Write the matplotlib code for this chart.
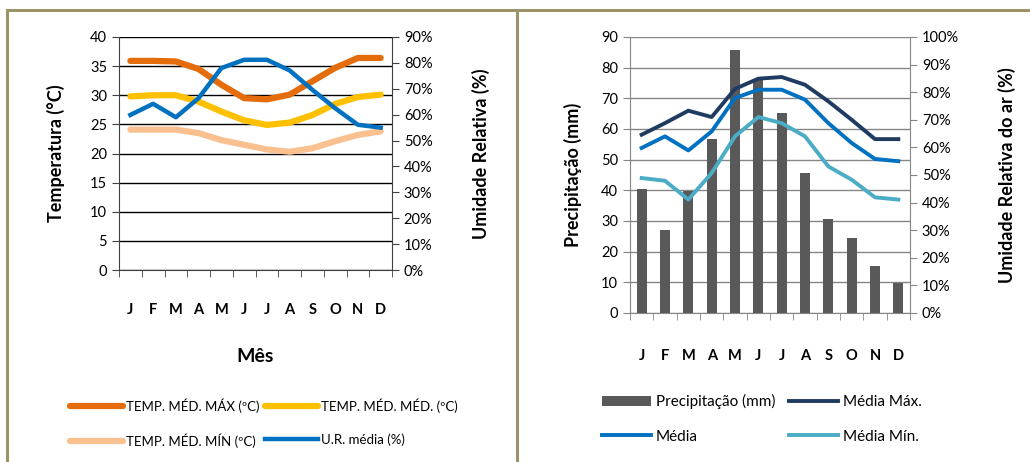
import numpy as np
import matplotlib
matplotlib.use('Agg')
from matplotlib import pyplot as plt
from matplotlib.lines import Line2D
from matplotlib.ticker import FuncFormatter

plt.rcParams['font.family'] = ['Lato', 'DejaVu Sans']

meses = ['J', 'F', 'M', 'A', 'M', 'J', 'J', 'A', 'S', 'O', 'N', 'D']

# grafico da esquerda
t_max = [35.9, 35.9, 35.8, 34.5, 31.8, 29.5, 29.3, 30.1, 32.4, 34.7, 36.4, 36.4]
t_med = [29.8, 30.0, 30.0, 28.9, 27.2, 25.7, 24.9, 25.3, 26.6, 28.5, 29.7, 30.1]
t_min = [24.1, 24.1, 24.1, 23.5, 22.3, 21.5, 20.7, 20.3, 20.9, 22.1, 23.2, 23.8]
ur_media = [59.9, 64.2, 59.0, 66.4, 78.0, 81.2, 81.2, 77.1, 69.6, 62.5, 56.1, 55.0]

# grafico da direita
precip = [40.4, 27.0, 39.7, 56.8, 85.7, 76.0, 65.2, 45.7, 30.8, 24.5, 15.4, 9.8]
ur_max = [64.6, 68.8, 73.3, 71.0, 81.2, 84.9, 85.5, 82.7, 76.7, 70.0, 63.0, 63.0]
ur_med = [59.8, 64.0, 58.9, 65.8, 77.9, 80.9, 80.9, 77.3, 68.8, 61.6, 55.8, 55.0]
ur_min = [48.9, 47.9, 41.1, 50.7, 64.0, 71.0, 68.8, 64.0, 53.1, 48.3, 41.9, 41.1]

W, H = 1030, 462
fig = plt.figure(figsize=(W/100, H/100), dpi=100)

def caixa(l, t, r, b):
    return [l/W, (H-b)/H, (r-l)/W, (b-t)/H]

# molduras
borda = '#9b9468'
fig.add_artist(Line2D([7/W, 1], [1-10/H, 1-10/H], color=borda, lw=2.2))
fig.add_artist(Line2D([7/W, 7/W], [0, 1-10/H], color=borda, lw=2.2))
fig.add_artist(Line2D([517/W, 517/W], [0, 1-10/H], color=borda, lw=2.2))

x = np.arange(12)
pct = FuncFormatter(lambda v, p: '%d%%' % round(v*100))

def eixo_x(ax, pad):
    ax.set_xlim(-0.5, 11.5)
    ax.set_xticks(x)
    ax.set_xticklabels(meses, fontweight='bold', fontsize=10.5)
    ax.set_xticks(np.arange(-0.5, 12, 1), minor=True)
    ax.tick_params(axis='x', which='major', length=0, pad=pad)
    ax.tick_params(axis='x', which='minor', length=5, direction='out', color='#404040')

# ---- esquerda
ax1 = fig.add_axes(caixa(119, 37, 392, 270))
ax1.set_ylim(0, 40)
ax1.set_yticks(np.arange(0, 41, 5))
ax1.grid(axis='y', color='black', lw=1)
ax1.set_axisbelow(True)
for s in ['top', 'right']:
    ax1.spines[s].set_visible(False)
for s in ['left', 'bottom']:
    ax1.spines[s].set_color('#404040')
ax1.tick_params(axis='y', length=5, direction='out', labelsize=10.5, color='#404040')
eixo_x(ax1, 24)
l1, = ax1.plot(x, t_max, color='#e46c0a', lw=4.5, solid_capstyle='round')
l2, = ax1.plot(x, t_med, color='#ffc000', lw=4.5, solid_capstyle='round')
l3, = ax1.plot(x, t_min, color='#fac090', lw=4.5, solid_capstyle='round')
ax1.set_ylabel('Temperatura (°C)', fontweight='bold', fontsize=13, labelpad=18)
ax1.set_xlabel('Mês', fontweight='bold', fontsize=14, labelpad=22)

ax1b = ax1.twinx()
ax1b.set_ylim(0, 0.9)
ax1b.set_yticks(np.arange(0, 0.91, 0.1))
ax1b.yaxis.set_major_formatter(pct)
for s in ['top', 'left', 'bottom']:
    ax1b.spines[s].set_visible(False)
ax1b.spines['right'].set_color('#404040')
ax1b.tick_params(axis='y', length=5, direction='out', labelsize=10.5, color='#404040')
l4, = ax1b.plot(x, np.array(ur_media)/100, color='#0070c0', lw=3.2)
ax1b.set_ylabel('Umidade Relativa (%)', fontweight='bold', fontsize=13, labelpad=28)

# ncol=2 preenche por coluna
fig.legend([l1, l3, l2, l4],
           ['TEMP. MÉD. MÁX (ºC)', 'TEMP. MÉD. MÍN (ºC)', 'TEMP. MÉD. MÉD. (ºC)', 'U.R. média (%)'],
           ncol=2, loc='center', bbox_to_anchor=(264/W, 1-423/H), frameon=False,
           fontsize=9.5, handlelength=4.0, handletextpad=0.25, columnspacing=0.4,
           labelspacing=1.55)

# ---- direita
ax2 = fig.add_axes(caixa(630, 37, 910, 313))
ax2.set_ylim(0, 90)
ax2.set_yticks(np.arange(0, 91, 10))
ax2.grid(axis='y', color='#868686', lw=1)
ax2.set_axisbelow(True)
for s in ['top', 'right']:
    ax2.spines[s].set_visible(False)
for s in ['left', 'bottom']:
    ax2.spines[s].set_color('#868686')
ax2.tick_params(axis='y', length=5, direction='out', labelsize=10.5, color='#868686')
eixo_x(ax2, 26)
ax2.tick_params(axis='x', which='minor', color='#868686')
b1 = ax2.bar(x, precip, width=0.43, color='#595959', zorder=2)
ax2.set_ylabel('Precipitação (mm)', fontweight='bold', fontsize=13, labelpad=14)

ax2b = ax2.twinx()
ax2b.set_ylim(0, 1.0)
ax2b.set_yticks(np.arange(0, 1.01, 0.1))
ax2b.yaxis.set_major_formatter(pct)
for s in ['top', 'left', 'bottom']:
    ax2b.spines[s].set_visible(False)
ax2b.spines['right'].set_color('#868686')
ax2b.tick_params(axis='y', length=5, direction='out', labelsize=10.5, color='#868686')
m1, = ax2b.plot(x, np.array(ur_max)/100, color='#1f3b60', lw=2.8)
m2, = ax2b.plot(x, np.array(ur_med)/100, color='#0070c0', lw=2.8)
m3, = ax2b.plot(x, np.array(ur_min)/100, color='#4bacc6', lw=2.8)
ax2b.set_ylabel('Umidade Relativa do ar (%)', fontweight='bold', fontsize=13, labelpad=28)

fig.legend([b1, m2, m1, m3],
           ['Precipitação (mm)', 'Média', 'Média Máx.', 'Média Mín.'],
           ncol=2, loc='center', bbox_to_anchor=(762/W, 1-419/H), frameon=False,
           fontsize=11, handlelength=3.2, handletextpad=0.3, columnspacing=0.9,
           labelspacing=1.35)

fig.savefig('out.png', dpi=100)
